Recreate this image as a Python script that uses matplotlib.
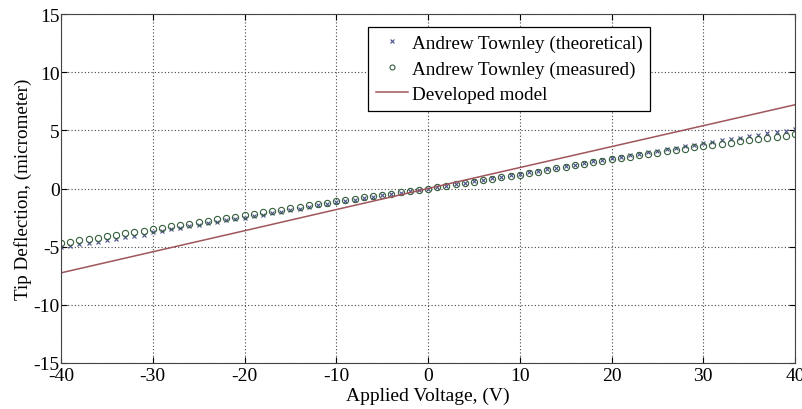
import numpy as np
import matplotlib
matplotlib.use("Agg")
import matplotlib.pyplot as plt

plt.rcParams['font.family'] = ['Liberation Serif', 'DejaVu Serif']
plt.rcParams['axes.unicode_minus'] = False

# applied voltage, V (-40 .. 40, step 1)
voltage = list(range(-40, 41))

# Andrew Townley (theoretical), micrometer
theoretical = [
    -5.05, -4.93, -4.81, -4.69, -4.57, -4.45, -4.33, -4.21, -4.09, -3.97,
    -3.75, -3.63, -3.50, -3.38, -3.25, -3.13, -3.00, -2.88, -2.75, -2.63,
    -2.50, -2.37, -2.24, -2.11, -1.98, -1.85, -1.72, -1.59, -1.46, -1.33,
    -1.20, -1.08, -0.96, -0.84, -0.72, -0.60, -0.48, -0.36, -0.24, -0.12,
    0.00,
    0.13, 0.25, 0.38, 0.50, 0.63, 0.75, 0.88, 1.00, 1.13, 1.25,
    1.39, 1.52, 1.66, 1.79, 1.93, 2.06, 2.20, 2.33, 2.47, 2.60,
    2.73, 2.86, 2.99, 3.12, 3.25, 3.38, 3.51, 3.64, 3.77, 3.90,
    4.02, 4.14, 4.26, 4.38, 4.50, 4.62, 4.74, 4.86, 4.98, 5.10,
]

# Andrew Townley (measured), micrometer
measured = [
    -4.70, -4.58, -4.46, -4.34, -4.22, -4.10, -3.98, -3.86, -3.74, -3.62,
    -3.50, -3.38, -3.26, -3.14, -3.02, -2.90, -2.78, -2.66, -2.54, -2.42,
    -2.30, -2.18, -2.06, -1.94, -1.82, -1.70, -1.58, -1.46, -1.34, -1.22,
    -1.10, -0.99, -0.88, -0.77, -0.66, -0.55, -0.44, -0.33, -0.22, -0.11,
    0.00,
    0.12, 0.24, 0.36, 0.48, 0.60, 0.72, 0.84, 0.96, 1.08, 1.20,
    1.33, 1.46, 1.59, 1.72, 1.85, 1.98, 2.11, 2.24, 2.37, 2.50,
    2.62, 2.73, 2.85, 2.96, 3.08, 3.19, 3.31, 3.42, 3.54, 3.65,
    3.75, 3.85, 3.95, 4.05, 4.15, 4.25, 4.35, 4.45, 4.55, 4.65,
]

# Developed model
model_v = [-40, -30, -20, -10, 0, 10, 20, 30, 40]
model_d = [-7.25, -5.44, -3.63, -1.81, 0.0, 1.80, 3.60, 5.40, 7.20]

fig = plt.figure(figsize=(8.02, 4.10), dpi=100)
ax = fig.add_axes([0.0761, 0.1122, 0.9152, 0.8512])

ax.plot(voltage, theoretical, linestyle='none', marker='x', markersize=3,
        markeredgewidth=0.8, color='#4a4f8a', label='Andrew Townley (theoretical)')
ax.plot(voltage, measured, linestyle='none', marker='o', markersize=4.5,
        markerfacecolor='none', markeredgewidth=0.8, color='#35603c',
        label='Andrew Townley (measured)')
ax.plot(model_v, model_d, color='#a0555c', linewidth=1.1, label='Developed model')

ax.set_xlim(-40, 40)
ax.set_ylim(-15, 15)
ax.set_xticks(range(-40, 41, 10))
ax.set_yticks(range(-15, 16, 5))
ax.grid(True, linestyle=(0, (1, 2)), color='#444444', linewidth=0.8)
ax.tick_params(direction='in', top=True, right=True, labelsize=14, length=4)
ax.tick_params(axis='x', pad=3)
ax.tick_params(axis='y', pad=1)
for s in ax.spines.values():
    s.set_color('#444444')

ax.set_xlabel('Applied Voltage, (V)', fontsize=14, labelpad=2)
ax.set_ylabel('Tip Deflection, (micrometer)', fontsize=13.8, labelpad=1)

leg = ax.legend(loc='upper left', bbox_to_anchor=(0.418, 0.963), fontsize=13.8,
                fancybox=False, framealpha=1, edgecolor='black', handlelength=1.7,
                handletextpad=0.2, borderpad=0.4, borderaxespad=0,
                labelspacing=0.42, numpoints=1, markerscale=0.8)
leg.get_frame().set_linewidth(0.9)

fig.savefig('out.png', dpi=100)
